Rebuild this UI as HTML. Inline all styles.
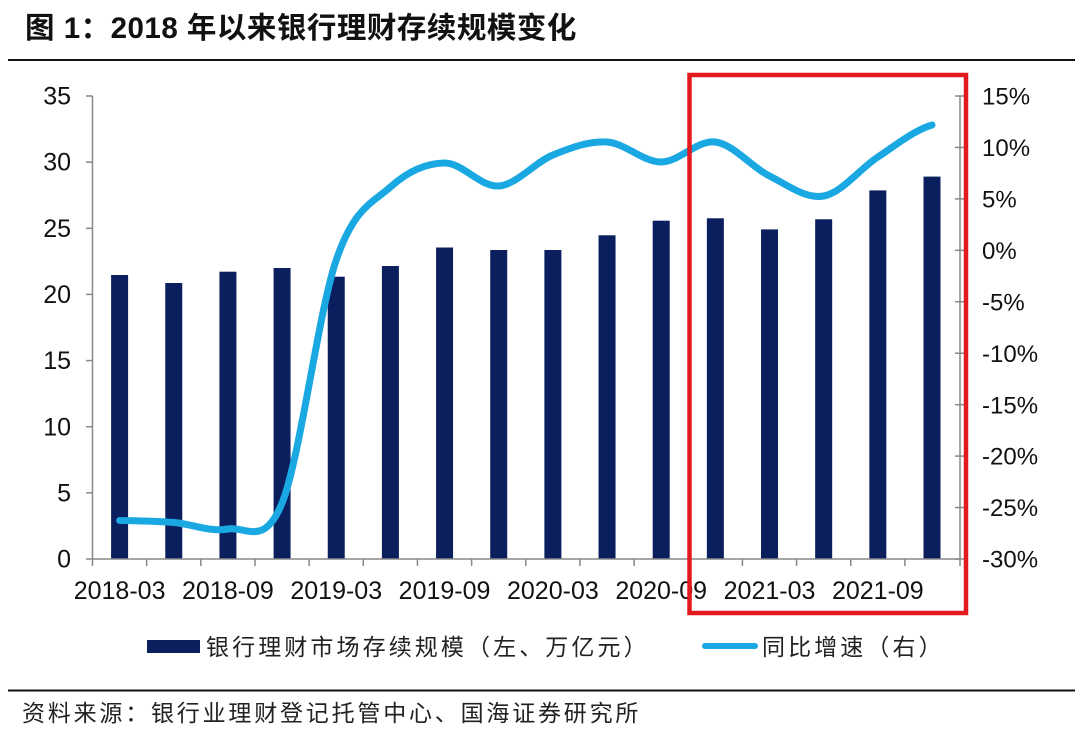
<!DOCTYPE html>
<html>
<head>
<meta charset="utf-8">
<style>
  html, body { margin: 0; padding: 0; background: #ffffff; }
  body { width: 1080px; height: 730px; overflow: hidden; }
  svg { display: block; }
  .ax { font-family: "Liberation Sans", Arial, sans-serif; font-size: 25px; fill: #111; }
  .axr { font-family: "Liberation Sans", Arial, sans-serif; font-size: 24px; fill: #111; }
  .cn { font-family: "Liberation Sans", "Noto Sans CJK SC", sans-serif; font-size: 23px; fill: #222; letter-spacing: 3.1px; }
  .title { font-family: "Liberation Sans", "Noto Sans CJK SC", sans-serif; font-size: 29.5px; font-weight: bold; fill: #111; letter-spacing: 0.5px; }
</style>
</head>
<body>
<svg width="1080" height="730" viewBox="0 0 1080 730" xmlns="http://www.w3.org/2000/svg">
  <rect width="1080" height="730" fill="#ffffff"/>

  <!-- Title -->
  <text class="title" x="25" y="38">图 1：2018 年以来银行理财存续规模变化</text>
  <line x1="8" y1="60" x2="1075" y2="60" stroke="#111" stroke-width="2"/>

  <!-- Bars -->
  <g fill="#0b1f5f">
    <rect x="111.1" y="275" width="17" height="284"/>
    <rect x="165.26" y="283" width="17" height="276"/>
    <rect x="219.42" y="271.7" width="17" height="287.3"/>
    <rect x="273.58" y="268" width="17" height="291"/>
    <rect x="327.74" y="276.7" width="17" height="282.3"/>
    <rect x="381.9" y="266" width="17" height="293"/>
    <rect x="436.06" y="247.5" width="17" height="311.5"/>
    <rect x="490.22" y="250" width="17" height="309"/>
    <rect x="544.38" y="250" width="17" height="309"/>
    <rect x="598.54" y="235.3" width="17" height="323.7"/>
    <rect x="652.7" y="220.7" width="17" height="338.3"/>
    <rect x="706.86" y="218.3" width="17" height="340.7"/>
    <rect x="761.02" y="229.4" width="17" height="329.6"/>
    <rect x="815.18" y="219.3" width="17" height="339.7"/>
    <rect x="869.34" y="190.4" width="17" height="368.6"/>
    <rect x="923.5" y="176.6" width="17" height="382.4"/>
  </g>

  <!-- Axes -->
  <g stroke="#888" stroke-width="1.5" fill="none">
    <line x1="92.5" y1="96" x2="92.5" y2="559"/>
    <line x1="960" y1="96" x2="960" y2="559"/>
    <line x1="92.5" y1="559" x2="960" y2="559"/>
    <line x1="86" y1="96" x2="92.5" y2="96"/>
    <line x1="86" y1="162.14" x2="92.5" y2="162.14"/>
    <line x1="86" y1="228.29" x2="92.5" y2="228.29"/>
    <line x1="86" y1="294.43" x2="92.5" y2="294.43"/>
    <line x1="86" y1="360.57" x2="92.5" y2="360.57"/>
    <line x1="86" y1="426.71" x2="92.5" y2="426.71"/>
    <line x1="86" y1="492.86" x2="92.5" y2="492.86"/>
    <line x1="86" y1="559" x2="92.5" y2="559"/>
    <line x1="955" y1="96" x2="966" y2="96"/>
    <line x1="955" y1="147.44" x2="966" y2="147.44"/>
    <line x1="955" y1="198.89" x2="966" y2="198.89"/>
    <line x1="955" y1="250.33" x2="966" y2="250.33"/>
    <line x1="955" y1="301.78" x2="966" y2="301.78"/>
    <line x1="955" y1="353.22" x2="966" y2="353.22"/>
    <line x1="955" y1="404.67" x2="966" y2="404.67"/>
    <line x1="955" y1="456.11" x2="966" y2="456.11"/>
    <line x1="955" y1="507.56" x2="966" y2="507.56"/>
    <line x1="955" y1="559" x2="966" y2="559"/>
    <line x1="92.5" y1="559" x2="92.5" y2="566"/>
    <line x1="146.66" y1="559" x2="146.66" y2="566"/>
    <line x1="200.82" y1="559" x2="200.82" y2="566"/>
    <line x1="254.98" y1="559" x2="254.98" y2="566"/>
    <line x1="309.14" y1="559" x2="309.14" y2="566"/>
    <line x1="363.3" y1="559" x2="363.3" y2="566"/>
    <line x1="417.46" y1="559" x2="417.46" y2="566"/>
    <line x1="471.62" y1="559" x2="471.62" y2="566"/>
    <line x1="525.78" y1="559" x2="525.78" y2="566"/>
    <line x1="579.94" y1="559" x2="579.94" y2="566"/>
    <line x1="634.1" y1="559" x2="634.1" y2="566"/>
    <line x1="688.26" y1="559" x2="688.26" y2="566"/>
    <line x1="742.42" y1="559" x2="742.42" y2="566"/>
    <line x1="796.58" y1="559" x2="796.58" y2="566"/>
    <line x1="850.74" y1="559" x2="850.74" y2="566"/>
    <line x1="904.9" y1="559" x2="904.9" y2="566"/>
    <line x1="960" y1="559" x2="960" y2="566"/>
  </g>

  <!-- Line series -->
  <path fill="none" stroke="#1aa8e2" stroke-width="7" stroke-linecap="round" stroke-linejoin="round"
    d="M119.6,520.5
       C137.65,520.83 155.71,521.08 173.76,522.5
       C191.81,523.92 209.87,532.25 227.92,529
       C245.97,525.75 264.03,547.83 282.08,503
       C300.13,458.17 318.19,312.67 336.24,260
       C354.29,207.33 372.35,203.17 390.4,187
       C408.45,170.83 426.51,163.17 444.56,163
       C462.61,162.83 480.67,187.33 498.72,186
       C516.77,184.67 534.83,162.33 552.88,155
       C570.93,147.67 588.99,140.83 607.04,142
       C625.09,143.17 643.15,162 661.2,162
       C679.25,162 697.31,139.67 715.36,142
       C733.41,144.33 751.47,167 769.52,176
       C787.57,185 805.63,199.17 823.68,196
       C841.73,192.83 859.79,168.83 877.84,157
       C895.89,145.17 913.95,130.33 932,125"/>

  <!-- Left labels -->
  <g class="ax" text-anchor="end">
    <text x="71" y="104.6">35</text>
    <text x="71" y="170.7">30</text>
    <text x="71" y="236.9">25</text>
    <text x="71" y="303">20</text>
    <text x="71" y="369.2">15</text>
    <text x="71" y="435.3">10</text>
    <text x="71" y="501.5">5</text>
    <text x="71" y="567.6">0</text>
  </g>

  <!-- Right labels -->
  <g class="axr" text-anchor="start">
    <text x="982" y="104.6">15%</text>
    <text x="982" y="156">10%</text>
    <text x="982" y="207.5">5%</text>
    <text x="982" y="258.9">0%</text>
    <text x="982" y="310.4">-5%</text>
    <text x="982" y="361.8">-10%</text>
    <text x="982" y="413.3">-15%</text>
    <text x="982" y="464.7">-20%</text>
    <text x="982" y="516.2">-25%</text>
    <text x="982" y="567.6">-30%</text>
  </g>

  <!-- X labels -->
  <g class="ax" text-anchor="middle">
    <text x="119.6" y="599">2018-03</text>
    <text x="227.92" y="599">2018-09</text>
    <text x="336.24" y="599">2019-03</text>
    <text x="444.56" y="599">2019-09</text>
    <text x="552.88" y="599">2020-03</text>
    <text x="661.2" y="599">2020-09</text>
    <text x="769.52" y="599">2021-03</text>
    <text x="877.84" y="599">2021-09</text>
  </g>

  <!-- Legend -->
  <rect x="147" y="640" width="53" height="13" fill="#0b1f5f"/>
  <text class="cn" x="206" y="655">银行理财市场存续规模（左、万亿元）</text>
  <line x1="705" y1="646" x2="755" y2="646" stroke="#1aa8e2" stroke-width="6" stroke-linecap="round"/>
  <text class="cn" x="762" y="655">同比增速（右）</text>

  <!-- Red highlight box -->
  <rect x="689.5" y="75" width="276.5" height="538" fill="none" stroke="#e3191f" stroke-width="4.5"/>

  <!-- Footer -->
  <line x1="8" y1="690.5" x2="1075" y2="690.5" stroke="#111" stroke-width="2"/>
  <text class="cn" x="22" y="721" style="letter-spacing:2.8px">资料来源：银行业理财登记托管中心、国海证券研究所</text>
</svg>
</body>
</html>
